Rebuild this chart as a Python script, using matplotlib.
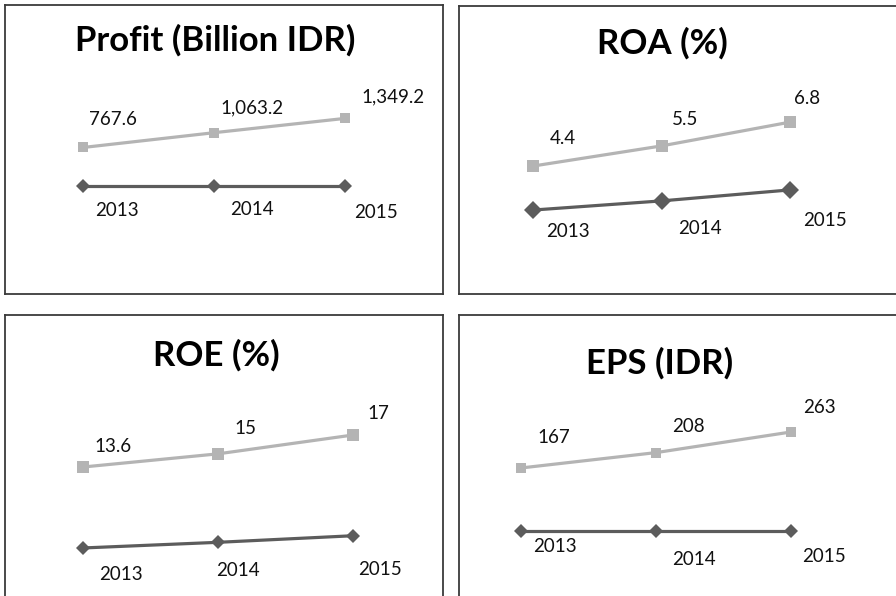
import matplotlib
matplotlib.use("Agg")
import matplotlib.pyplot as plt

# data
years = ["2013", "2014", "2015"]
titles = ["Profit (Billion IDR)", "ROA (%)", "ROE (%)", "EPS (IDR)"]
profit = [767.6, 1063.2, 1349.2]
roa = [4.4, 5.5, 6.8]
roe = [13.6, 15, 17]
eps = [167, 208, 263]
profit_lbl = ["767.6", "1,063.2", "1,349.2"]
roa_lbl = ["4.4", "5.5", "6.8"]
roe_lbl = ["13.6", "15", "17"]
eps_lbl = ["167", "208", "263"]
# second (dark) series as it sits in each chart
profit_base = [0, 0, 0]
roa_base = [2.0, 2.5, 3.1]
roe_base = [5.0, 5.6, 6.3]
eps_base = [0, 0, 0]

W, H = 896, 596
LIGHT = "#b4b4b4"
DARK = "#5c5c5c"
plt.rcParams["font.family"] = ["Lato", "DejaVu Sans"]

# layout per panel: box in pixels (x0, y0, x1, y1), xlim, ylim, title centre
panels = [
    dict(box=(5, 5, 443, 294), xlim=(-0.595, 2.748), ylim=(-2161, 3616), tc=(215, 40),
         vals=profit, lbl=profit_lbl, base=profit_base, ms=(7, 7),
         voff=[(30, 28), (38, 25), (48, 22)], yoff=[(34, -25), (38, -24), (31, -27)]),
    dict(box=(459, 6, 905, 294), xlim=(-0.576, 2.89), ylim=(-2.58, 13.13), tc=(662, 43),
         vals=roa, lbl=roa_lbl, base=roa_base, ms=(8.5, 9),
         voff=[(30, 28), (23, 26), (17, 24)], yoff=[(35, -21), (38, -28), (35, -31)]),
    dict(box=(5, 315, 443, 610), xlim=(-0.578, 2.667), ylim=(-1.59, 29.75), tc=(216, 355),
         vals=roe, lbl=roe_lbl, base=roe_base, ms=(8, 7),
         voff=[(30, 21), (27, 25), (25, 22)], yoff=[(38, -27), (20, -28), (27, -34)]),
    dict(box=(459, 315, 905, 610), xlim=(-0.462, 2.843), ylim=(-212, 575), tc=(660, 363),
         vals=eps, lbl=eps_lbl, base=eps_base, ms=(7.5, 7),
         voff=[(32, 30), (32, 26), (28, 24)], yoff=[(34, -16), (38, -29), (33, -26)]),
]

fig = plt.figure(figsize=(W / 100, H / 100), dpi=100)
x = list(range(len(years)))

for p, title in zip(panels, titles):
    x0, y0, x1, y1 = p["box"]
    ax = fig.add_axes([x0 / W, 1 - y1 / H, (x1 - x0) / W, (y1 - y0) / H])
    ax.set_xlim(*p["xlim"])
    ax.set_ylim(*p["ylim"])
    ax.set_xticks([])
    ax.set_yticks([])
    for s in ax.spines.values():
        s.set_color("#3a3a3a")
        s.set_linewidth(1.3)

    ax.plot(x, p["vals"], color=LIGHT, lw=2.3, marker="s", ms=p["ms"][0],
            markeredgewidth=0, clip_on=False)
    ax.plot(x, p["base"], color=DARK, lw=2.3, marker="D", ms=p["ms"][1],
            markeredgewidth=0, clip_on=False)

    for xi, v, t, off in zip(x, p["vals"], p["lbl"], p["voff"]):
        ax.annotate(t, (xi, v), xytext=off, textcoords="offset pixels",
                    ha="center", va="center", fontsize=13.5, color="#111111")
    for xi, v, t, off in zip(x, p["base"], years, p["yoff"]):
        ax.annotate(t, (xi, v), xytext=off, textcoords="offset pixels",
                    ha="center", va="center", fontsize=13.5, color="#111111")

    cx, cy = p["tc"]
    fig.text(cx / W, 1 - cy / H, title, ha="center", va="center",
             fontsize=25, fontweight="bold", color="black")

fig.savefig("out.png", dpi=100)
